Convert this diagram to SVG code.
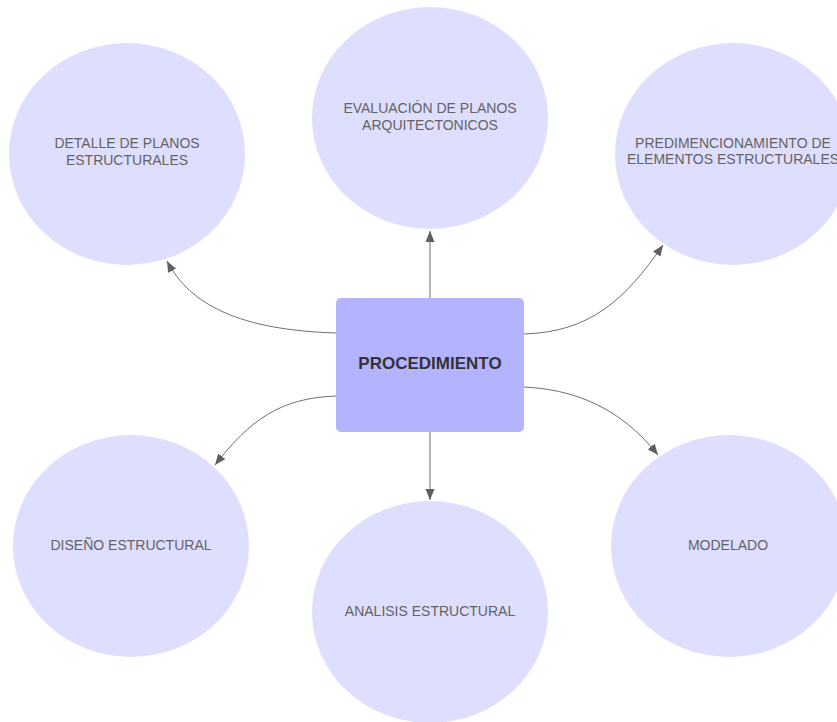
<svg xmlns="http://www.w3.org/2000/svg" width="837" height="722" viewBox="0 0 837 722">
<style>
.c{fill:#dedeff;}
.t{font-family:"Liberation Sans",Arial,sans-serif;font-size:14px;fill:#636363;text-anchor:middle;}
.e{fill:none;stroke:#6f6f6f;stroke-width:1;}
.b{font-family:"Liberation Sans",Arial,sans-serif;font-size:17px;font-weight:bold;fill:#333333;text-anchor:middle;}
</style>
<defs>
<marker id="ah" markerUnits="userSpaceOnUse" markerWidth="12" markerHeight="10" refX="11" refY="4.5" orient="auto">
<path d="M0,0 L11,4.5 L0,9 z" fill="#5e5e5e"/>
</marker>
</defs>
<rect width="837" height="722" fill="#ffffff"/>
<g id="n-evaluacion"><ellipse class="c" cx="430" cy="118" rx="118" ry="111"/><text class="t" x="430" y="113">EVALUACIÓN DE PLANOS</text><text class="t" x="430" y="130">ARQUITECTONICOS</text></g>
<g id="n-detalle"><ellipse class="c" cx="127" cy="154" rx="118" ry="111"/><text class="t" x="127" y="148">DETALLE DE PLANOS</text><text class="t" x="127" y="165">ESTRUCTURALES</text></g>
<g id="n-predim"><ellipse class="c" cx="733" cy="154" rx="118" ry="111"/><text class="t" x="733" y="148">PREDIMENCIONAMIENTO DE</text><text class="t" x="733" y="164">ELEMENTOS ESTRUCTURALES</text></g>
<g id="n-diseno"><ellipse class="c" cx="131" cy="546" rx="118" ry="111"/><text class="t" x="131" y="550">DISEÑO ESTRUCTURAL</text></g>
<g id="n-analisis"><ellipse class="c" cx="430" cy="612" rx="118" ry="111"/><text class="t" x="430" y="616">ANALISIS ESTRUCTURAL</text></g>
<g id="n-modelado"><ellipse class="c" cx="729" cy="546" rx="118" ry="111"/><text class="t" x="728" y="550">MODELADO</text></g>
<g id="n-procedimiento"><rect x="336" y="298" width="188" height="134" rx="5" fill="#b3b3ff"/><text class="b" x="430" y="369">PROCEDIMIENTO</text></g>
<g id="connectors">
<path class="e" d="M430,298 L430,231" marker-end="url(#ah)"/>
<path class="e" d="M430,432 L430,500" marker-end="url(#ah)"/>
<path class="e" d="M336,333 C240,330 190,305 167,261" marker-end="url(#ah)"/>
<path class="e" d="M524,334 C590,332 625,300 663,245" marker-end="url(#ah)"/>
<path class="e" d="M336,396 C280,398 250,420 215,465" marker-end="url(#ah)"/>
<path class="e" d="M524,387 C590,390 630,420 658,455" marker-end="url(#ah)"/>
</g>
</svg>
